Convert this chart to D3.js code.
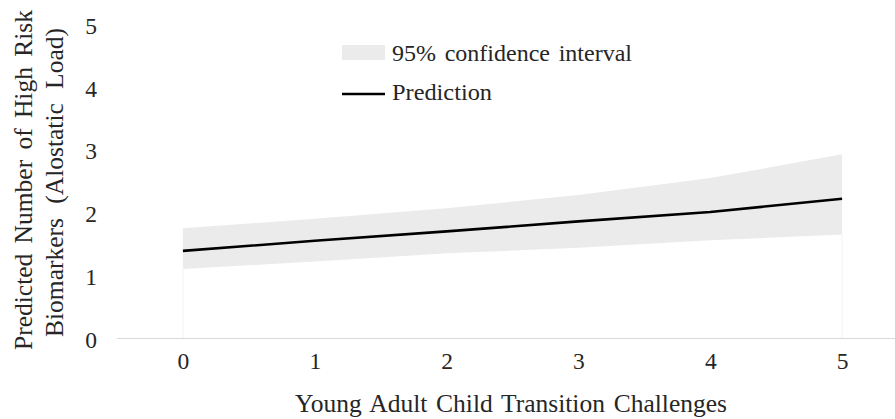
<!DOCTYPE html>
<html>
<head>
<meta charset="utf-8">
<script src="https://cdn.jsdelivr.net/npm/d3@7"></script>
<style>
  html, body { margin: 0; padding: 0; background: #fff; }
  svg { display: block; }
  text { font-family: "Liberation Serif", "Times New Roman", serif; fill: #262626; }
</style>
</head>
<body>
<svg id="chart" width="895" height="419"></svg>
<script>
// ---- data ----
const categories = [0, 1, 2, 3, 4, 5];
const prediction = [1.39, 1.55, 1.70, 1.86, 2.01, 2.22];
const upperCI    = [1.75, 1.90, 2.07, 2.28, 2.55, 2.93];
const lowerCI    = [1.10, 1.22, 1.35, 1.44, 1.56, 1.65];
const yTicks = [0, 1, 2, 3, 4, 5];
const xTitle = "Young Adult Child Transition Challenges";
const yTitleLines = ["Predicted Number of High Risk", "Biomarkers (Alostatic Load)"];
const legendLabels = ["95% confidence interval", "Prediction"];

// ---- layout ----
const svg = d3.select("#chart");
const x = d3.scalePoint().domain(categories).range([117, 908]).padding(0.5);
const y = d3.scaleLinear().domain([0, 5]).range([338, 24.5]);
const FS_TICK = 23.5, FS_TITLE = 25.5, FS_LEG = 24;

// fit text to a target width: widen word gaps, or condense glyphs if too wide
function fitWidth(sel, target) {
  sel.each(function () {
    const t = d3.select(this);
    const str = t.text();
    const n = (str.match(/ /g) || []).length;
    const w = this.getComputedTextLength();
    if (n > 0 && w < target) t.attr("word-spacing", (target - w) / n);
    else t.attr("textLength", target).attr("lengthAdjust", "spacingAndGlyphs");
  });
}

const data = categories.map((c, i) => ({ c, p: prediction[i], lo: lowerCI[i], hi: upperCI[i] }));

// faint edge drop lines of the area
svg.selectAll("line.drop").data([data[0], data[data.length - 1]]).enter()
  .append("line")
  .attr("x1", d => x(d.c)).attr("x2", d => x(d.c))
  .attr("y1", d => y(d.lo)).attr("y2", y(0))
  .attr("stroke", "#f2f2f2").attr("stroke-width", 1);

// confidence band
svg.append("path")
  .datum(data)
  .attr("fill", "#ebebeb")
  .attr("d", d3.area().x(d => x(d.c)).y0(d => y(d.lo)).y1(d => y(d.hi)));

// baseline
svg.append("line")
  .attr("x1", 117).attr("x2", 908)
  .attr("y1", y(0) + 0.5).attr("y2", y(0) + 0.5)
  .attr("stroke", "#d9d9d9").attr("stroke-width", 1.2);

// prediction line
svg.append("path")
  .datum(data)
  .attr("fill", "none")
  .attr("stroke", "#000")
  .attr("stroke-width", 2.6)
  .attr("d", d3.line().x(d => x(d.c)).y(d => y(d.p)));

// y axis labels (no line)
const yAxis = d3.axisLeft(y).tickValues(yTicks).tickSize(0).tickPadding(0).tickFormat(d3.format("d"));
const yg = svg.append("g").attr("transform", "translate(97,1.5)").call(yAxis);
yg.select(".domain").remove();
yg.selectAll("text").attr("font-size", FS_TICK).attr("font-family", "Liberation Serif").attr("fill", "#262626");

// x axis labels
const xAxis = d3.axisBottom(x).tickSize(0).tickPadding(0).tickFormat(d3.format("d"));
const xg = svg.append("g").attr("transform", "translate(0,352)").call(xAxis);
xg.select(".domain").remove();
xg.selectAll("text").attr("font-size", FS_TICK).attr("font-family", "Liberation Serif").attr("fill", "#262626");

// x title
svg.append("text")
  .attr("x", 295).attr("y", 412)
  .attr("font-size", FS_TITLE)
  .text(xTitle)
  .call(fitWidth, 432);

// y title (two rotated lines)
const yTitlePos = [{ bx: 32, cy: 180, len: 340 }, { bx: 63, cy: 182.5, len: 309 }];
yTitleLines.forEach((s, i) => {
  svg.append("text")
    .attr("transform", `translate(${yTitlePos[i].bx},${yTitlePos[i].cy}) rotate(-90)`)
    .attr("x", -yTitlePos[i].len / 2)
    .attr("font-size", FS_TITLE)
    .text(s)
    .call(fitWidth, yTitlePos[i].len);
});

// legend
const lg = svg.append("g");
lg.append("rect").attr("x", 342).attr("y", 45).attr("width", 43).attr("height", 15).attr("fill", "#ebebeb");
lg.append("line").attr("x1", 342).attr("x2", 385).attr("y1", 94).attr("y2", 94)
  .attr("stroke", "#000").attr("stroke-width", 2.6);
lg.append("text").attr("x", 392).attr("y", 61).attr("font-size", FS_LEG).text(legendLabels[0]).call(fitWidth, 240);
lg.append("text").attr("x", 392).attr("y", 100).attr("font-size", FS_LEG).text(legendLabels[1]).call(fitWidth, 100);
</script>
</body>
</html>
